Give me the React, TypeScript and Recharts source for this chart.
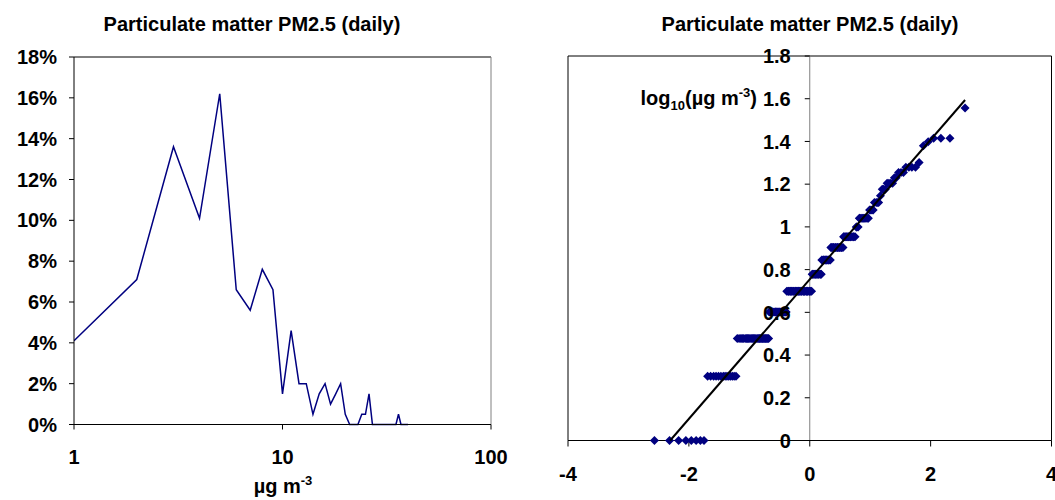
import { LineChart, Line, ScatterChart, Scatter, XAxis, YAxis, ReferenceLine } from 'recharts';

// Daily PM2.5 concentration (µg m-3) and share of days at each value (%)
const concentration = [
  1, 2, 3, 4, 5, 6, 7, 8, 9, 10, 11, 12, 13, 14, 15, 16, 17, 18, 19, 20,
  21, 22, 23, 24, 25, 26, 27, 28, 29, 30, 31, 32, 33, 34, 35, 36, 37, 38, 39, 40,
];
const dayShare = [
  4.1, 7.1, 13.6, 10.1, 16.2, 6.6, 5.6, 7.6, 6.6, 1.5, 4.6, 2.0, 2.0, 0.5, 1.5, 2.0, 1.0, 1.5, 2.0, 0.5,
  0, 0, 0, 0.5, 0.5, 1.5, 0, 0, 0, 0, 0, 0, 0, 0, 0, 0.5, 0, 0, 0, 0,
];
const shareTicks = [0, 2, 4, 6, 8, 10, 12, 14, 16, 18];
const concTicks = [1, 10, 100];

// Probability plot: log10 of each concentration level and the normal scores of the days at that level
const logLevels = [
  0, 0.301, 0.477, 0.602, 0.699, 0.778, 0.845, 0.903, 0.954, 1, 1.041, 1.079,
  1.114, 1.146, 1.176, 1.204, 1.23, 1.255, 1.279, 1.301, 1.38, 1.398, 1.415, 1.556,
];
const normalScores = [
  [-2.57, -2.32, -2.17, -2.05, -1.96, -1.88, -1.81, -1.75],
  [-1.69, -1.64, -1.59, -1.55, -1.51, -1.47, -1.43, -1.4, -1.37, -1.34, -1.31, -1.28, -1.25, -1.22],
  [-1.2, -1.17, -1.14, -1.12, -1.1, -1.07, -1.05, -1.03, -1.01, -0.99, -0.97, -0.95, -0.93, -0.91,
    -0.89, -0.87, -0.85, -0.83, -0.82, -0.8, -0.78, -0.77, -0.75, -0.73, -0.72, -0.7, -0.68],
  [-0.67, -0.65, -0.64, -0.62, -0.61, -0.59, -0.57, -0.56, -0.55, -0.53, -0.52, -0.5, -0.49, -0.47,
    -0.46, -0.45, -0.43, -0.42, -0.4, -0.39],
  [-0.38, -0.36, -0.35, -0.34, -0.32, -0.31, -0.3, -0.28, -0.27, -0.26, -0.24, -0.23, -0.22, -0.2,
    -0.19, -0.18, -0.17, -0.15, -0.14, -0.13, -0.11, -0.1, -0.09, -0.08, -0.06, -0.05, -0.04, -0.03,
    -0.01, 0, 0.01, 0.03],
  [0.04, 0.05, 0.06, 0.08, 0.09, 0.1, 0.11, 0.13, 0.14, 0.15, 0.17, 0.18, 0.19],
  [0.2, 0.22, 0.23, 0.24, 0.26, 0.27, 0.28, 0.3, 0.31, 0.32, 0.34],
  [0.35, 0.36, 0.38, 0.39, 0.4, 0.42, 0.43, 0.45, 0.46, 0.47, 0.49, 0.5, 0.52, 0.53, 0.55],
  [0.56, 0.57, 0.59, 0.61, 0.62, 0.64, 0.65, 0.67, 0.68, 0.7, 0.72, 0.73, 0.75],
  [0.77, 0.78, 0.8],
  [0.82, 0.83, 0.85, 0.87, 0.89, 0.91, 0.93, 0.95, 0.97],
  [0.99, 1.01, 1.03, 1.05],
  [1.07, 1.1, 1.12, 1.14],
  [1.17],
  [1.2, 1.22, 1.25],
  [1.28, 1.31, 1.34, 1.37],
  [1.4, 1.43],
  [1.47, 1.51, 1.55],
  [1.59, 1.64, 1.69, 1.75],
  [1.81],
  [1.88],
  [1.96],
  [2.05, 2.17, 2.32],
  [2.57],
];
// fitted straight line, shown from where it meets zero
const fitX = [-2.31, 2.57];
const fitY = [0, 1.594];
const scoreTicks = [-4, -2, 0, 2, 4];
const logTicks = [0, 0.2, 0.4, 0.6, 0.8, 1, 1.2, 1.4, 1.6, 1.8];

const histData = concentration.map((c, i) => ({ conc: c, share: dayShare[i] }));
const probData = logLevels.flatMap((lv, i) => normalScores[i].map((z) => ({ z, lv })));
const fitData = fitX.map((z, i) => ({ z, lv: fitY[i] }));

const FONT = '"Liberation Sans", Arial, sans-serif';
const NAVY = '#000080';
const tickStyle = { fontSize: 20, fontWeight: 'bold', fill: '#000', fontFamily: FONT };

// right chart layout
const R_W = 515;
const R_AXIS_W = 28;
const R_MARGIN_R = 3.5;
const ZERO_X = R_AXIS_W + (R_W - R_AXIS_W - R_MARGIN_R) / 2;

const fmtLog = (v: number) => String(Math.round(v * 10) / 10);

// y ticks sit on the vertical line through x = 0
const ZeroAxisTick = ({ y, payload }: any) => (
  <g>
    <line x1={ZERO_X - 5} x2={ZERO_X} y1={y} y2={y} stroke="#000" />
    <text x={ZERO_X - 19} y={y} dy="0.36em" textAnchor="end" {...tickStyle}>
      {fmtLog(payload.value)}
    </text>
  </g>
);

const Diamond = ({ cx, cy }: any) => (
  <path d={`M${cx},${cy - 4.5}L${cx + 4.5},${cy}L${cx},${cy + 4.5}L${cx - 4.5},${cy}Z`} fill={NAVY} />
);

const NoDot = () => <g />;

const titleStyle: React.CSSProperties = {
  position: 'absolute',
  top: 14,
  width: 400,
  textAlign: 'center',
  fontSize: 20,
  fontWeight: 'bold',
  lineHeight: '20px',
  whiteSpace: 'nowrap',
};
const smallStyle: React.CSSProperties = { fontSize: 13, lineHeight: 0 };

export default function App() {
  return (
    <div style={{ position: 'absolute', left: 0, top: 0, width: 1055, height: 500, background: '#fff', fontFamily: FONT, color: '#000', overflow: 'hidden' }}>
      <div style={{ ...titleStyle, left: 52 }}>Particulate matter PM2.5 (daily)</div>
      <div style={{ ...titleStyle, left: 610 }}>Particulate matter PM2.5 (daily)</div>

      <div style={{ position: 'absolute', left: 0, top: 0 }}>
        <LineChart width={540} height={500} data={histData} margin={{ top: 57, right: 49, bottom: 45.5, left: 0 }}>
          <XAxis
            dataKey="conc"
            type="number"
            scale="log"
            domain={[1, 100]}
            ticks={concTicks}
            interval={0}
            height={30}
            tick={tickStyle}
            tickSize={5}
            tickMargin={20}
            axisLine={{ stroke: '#000' }}
            tickLine={{ stroke: '#000' }}
            allowDataOverflow
          />
          <YAxis
            type="number"
            domain={[0, 18]}
            ticks={shareTicks}
            interval={0}
            width={74}
            tick={tickStyle}
            tickSize={5}
            tickMargin={12}
            tickFormatter={(v) => `${v}%`}
            axisLine={{ stroke: '#000' }}
            tickLine={{ stroke: '#000' }}
          />
          <ReferenceLine y={18} stroke="#000" />
          <ReferenceLine x={100} stroke="#808080" />
          <Line
            dataKey="share"
            type="linear"
            stroke={NAVY}
            strokeWidth={1.5}
            dot={false}
            isAnimationActive={false}
          />
        </LineChart>
      </div>

      <div style={{ position: 'absolute', left: 540, top: 0 }}>
        <ScatterChart width={R_W} height={500} margin={{ top: 56, right: R_MARGIN_R, bottom: 29.5, left: 0 }}>
          <XAxis
            dataKey="z"
            type="number"
            domain={[-4, 4]}
            ticks={scoreTicks}
            interval={0}
            height={30}
            tick={tickStyle}
            tickSize={6}
            tickMargin={20}
            axisLine={{ stroke: '#000' }}
            tickLine={{ stroke: '#000' }}
          />
          <YAxis
            dataKey="lv"
            type="number"
            domain={[0, 1.8]}
            ticks={logTicks}
            interval={0}
            width={R_AXIS_W}
            tick={<ZeroAxisTick />}
            tickLine={false}
            axisLine={{ stroke: '#000' }}
          />
          <ReferenceLine y={1.8} stroke="#000" />
          <ReferenceLine x={4} stroke="#000" />
          <ReferenceLine x={0} stroke="#808080" />
          <Scatter data={probData} shape={<Diamond />} isAnimationActive={false} />
          <Scatter
            data={fitData}
            line={{ stroke: '#000', strokeWidth: 2 }}
            shape={<NoDot />}
            isAnimationActive={false}
          />
        </ScatterChart>
      </div>

      <div style={{ position: 'absolute', left: 183, top: 476, width: 200, textAlign: 'center', fontSize: 20, fontWeight: 'bold', lineHeight: '20px' }}>
        µg m<sup style={smallStyle}>-3</sup>
      </div>
      <div style={{ position: 'absolute', left: 557, top: 88, width: 200, textAlign: 'right', fontSize: 20, fontWeight: 'bold', lineHeight: '20px', whiteSpace: 'nowrap' }}>
        log<sub style={smallStyle}>10</sub>(µg m<sup style={smallStyle}>-3</sup>)
      </div>
    </div>
  );
}
